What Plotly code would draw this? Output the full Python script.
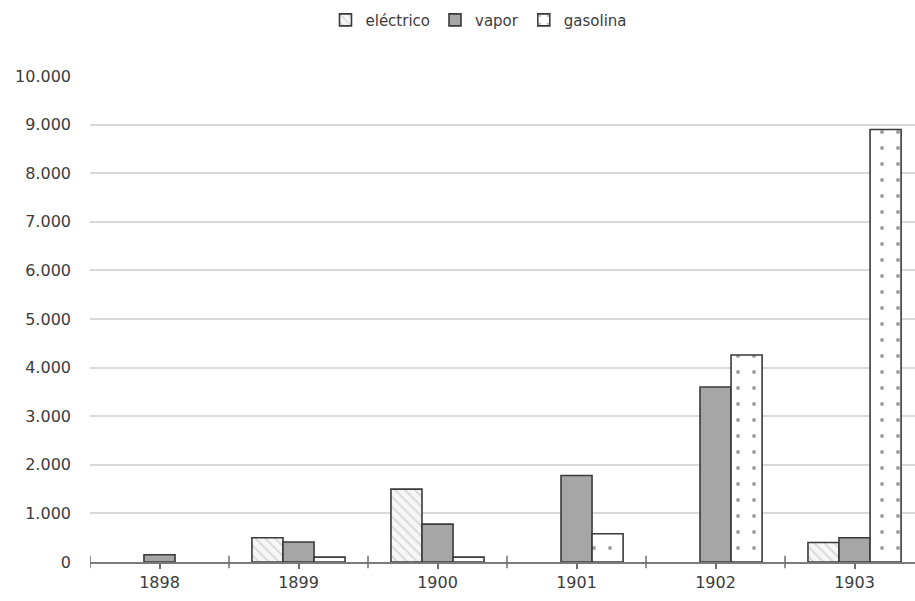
import plotly.graph_objects as go

# Vehicle counts by propulsion type, 1898-1903
years = ["1898", "1899", "1900", "1901", "1902", "1903"]
electrico = [0, 500, 1500, 0, 0, 400]
vapor = [150, 410, 780, 1780, 3600, 500]
gasolina = [0, 100, 100, 580, 4260, 8900]

y_ticks = [0, 1000, 2000, 3000, 4000, 5000, 6000, 7000, 8000, 9000, 10000]

FONT = "DejaVu Sans"
TEXT = "#3c3c3c"
EDGE = "#3a3a3a"


def nonzero(values):
    # empty years are left blank rather than drawn as flat outlines
    return [v if v > 0 else None for v in values]


fig = go.Figure()

fig.add_trace(go.Bar(
    name="eléctrico", x=years, y=nonzero(electrico),
    marker=dict(
        color="#f4f4f4",
        line=dict(color=EDGE, width=1.6),
        pattern=dict(shape="\\", fgcolor="#cfcfcf", bgcolor="#f6f6f6",
                     size=7, solidity=0.2, fillmode="replace"),
    ),
))
fig.add_trace(go.Bar(
    name="vapor", x=years, y=nonzero(vapor),
    marker=dict(color="#a6a6a6", line=dict(color=EDGE, width=1.6)),
))
fig.add_trace(go.Bar(
    name="gasolina", x=years, y=nonzero(gasolina),
    marker=dict(
        color="#ffffff",
        line=dict(color=EDGE, width=1.6),
        pattern=dict(shape=".", fgcolor="#a0a0a0", bgcolor="#ffffff",
                     size=16, solidity=0.05, fillmode="replace"),
    ),
))

# boundary ticks crossing the category axis
for i in range(len(years) + 1):
    fig.add_shape(type="line", xref="x", yref="paper",
                  x0=i - 0.5, x1=i - 0.5, y0=-0.013, y1=0.013,
                  line=dict(color="#6f6f6f", width=1.5), layer="above")

fig.update_layout(
    width=915, height=601,
    margin=dict(l=90, r=0, t=76, b=39),
    paper_bgcolor="white", plot_bgcolor="white",
    barmode="group", bargap=0.33, bargroupgap=0,
    separators=",.",
    font=dict(family=FONT, size=16, color=TEXT),
    legend=dict(orientation="h", x=0.4715, xanchor="center",
                y=1.115, yanchor="middle",
                font=dict(family=FONT, size=15, color=TEXT),
                itemwidth=30, tracegroupgap=0),
    showlegend=True,
)

fig.update_xaxes(
    type="category", range=[-0.5, 5.435],
    showline=True, linecolor="#7a7a7a", linewidth=1.5,
    ticks="outside", ticklen=5, tickcolor="#6f6f6f", tickwidth=1.5,
    showgrid=False, tickfont=dict(family=FONT, size=16, color=TEXT),
)
fig.update_yaxes(
    range=[0, 10000], tickvals=y_ticks, tickformat=",d",
    showgrid=True, gridcolor="#d9d9d9", gridwidth=1.5,
    zeroline=False, showline=False, ticks="",
    ticklabelstandoff=18,
    tickfont=dict(family=FONT, size=16, color=TEXT),
)

fig.write_html("out.html")
